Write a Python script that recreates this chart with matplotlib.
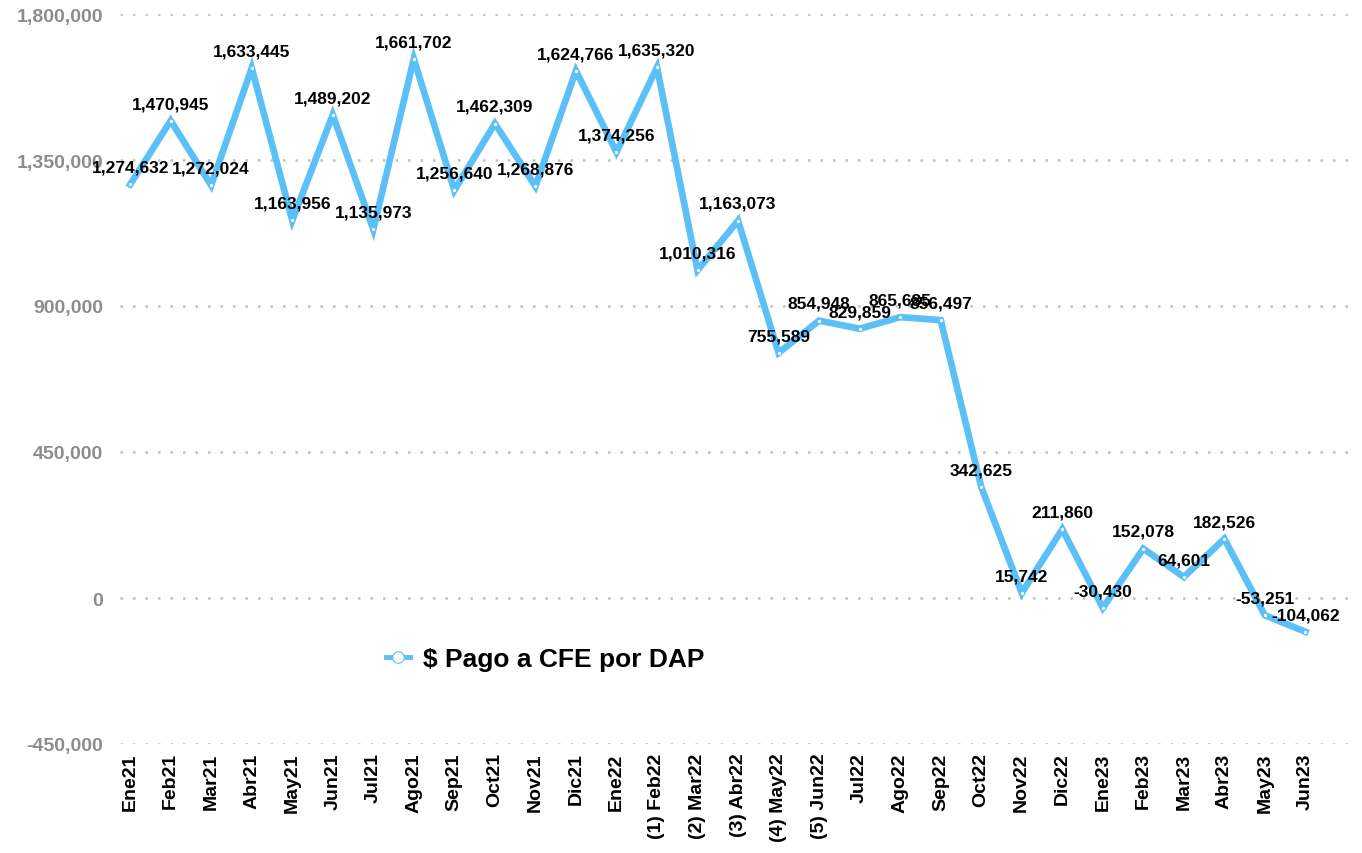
import matplotlib.pyplot as plt
from matplotlib.ticker import FuncFormatter

plt.rcParams['font.family'] = ['Liberation Sans', 'DejaVu Sans']

months = ["Ene21", "Feb21", "Mar21", "Abr21", "May21", "Jun21", "Jul21", "Ago21",
          "Sep21", "Oct21", "Nov21", "Dic21", "Ene22", "(1) Feb22", "(2) Mar22",
          "(3) Abr22", "(4) May22", "(5) Jun22", "Jul22", "Ago22", "Sep22", "Oct22",
          "Nov22", "Dic22", "Ene23", "Feb23", "Mar23", "Abr23", "May23", "Jun23"]
pago_cfe = [1274632, 1470945, 1272024, 1633445, 1163956, 1489202, 1135973, 1661702,
            1256640, 1462309, 1268876, 1624766, 1374256, 1635320, 1010316,
            1163073, 755589, 854948, 829859, 865685, 856497, 342625,
            15742, 211860, -30430, 152078, 64601, 182526, -53251, -104062]
y_ticks = [-450000, 0, 450000, 900000, 1350000, 1800000]

line_color = "#5BC0F8"

fig = plt.figure(figsize=(13.62, 8.54), dpi=100)
# axes placed in pixel terms: left 120, right 1350, top 15, bottom 745
ax = fig.add_axes([120 / 1362, (854 - 745) / 854, 1230 / 1362, 730 / 854])

x = list(range(len(months)))
ax.plot(x, pago_cfe, color=line_color, linewidth=4.8, marker='o', markersize=3.2,
        markerfacecolor='white', markeredgecolor=line_color, markeredgewidth=0.8,
        label="$ Pago a CFE por DAP", solid_joinstyle='miter')

# data labels above each point
for xi, v in zip(x, pago_cfe):
    ax.annotate(f"{v:,}", (xi, v), xytext=(0, 7), textcoords="offset points",
                ha="center", va="bottom", fontsize=12.5, fontweight="bold", color="black")

ax.set_ylim(-450000, 1800000)
ax.set_xlim(-0.25, 30.1)
ax.set_yticks(y_ticks)
ax.yaxis.set_major_formatter(FuncFormatter(lambda v, p: f"{int(v):,}"))
ax.set_xticks(x)
ax.set_xticklabels(months, rotation=90, fontsize=14, fontweight="bold", color="black")
for lbl in ax.get_yticklabels():
    lbl.set_fontweight("bold")
    lbl.set_fontsize(14)
    lbl.set_color("#8c8c8c")
ax.tick_params(length=0, axis='both')
ax.tick_params(axis='y', pad=12)
ax.tick_params(axis='x', pad=6)

ax.grid(axis='y', color="#c0c0c0", linestyle=(0, (1, 4)), linewidth=1.8)
ax.set_axisbelow(True)
for s in ax.spines.values():
    s.set_visible(False)

leg = ax.legend(loc="center left", bbox_to_anchor=(362 / 1362, 1 - 660 / 854),
                bbox_transform=fig.transFigure, frameon=False, handlelength=0.9,
                handletextpad=0.5, markerscale=2.6,
                prop={'weight': 'bold', 'size': 19})
leg.get_lines()[0].set_linewidth(3.5)

plt.savefig("out.png", dpi=100)
